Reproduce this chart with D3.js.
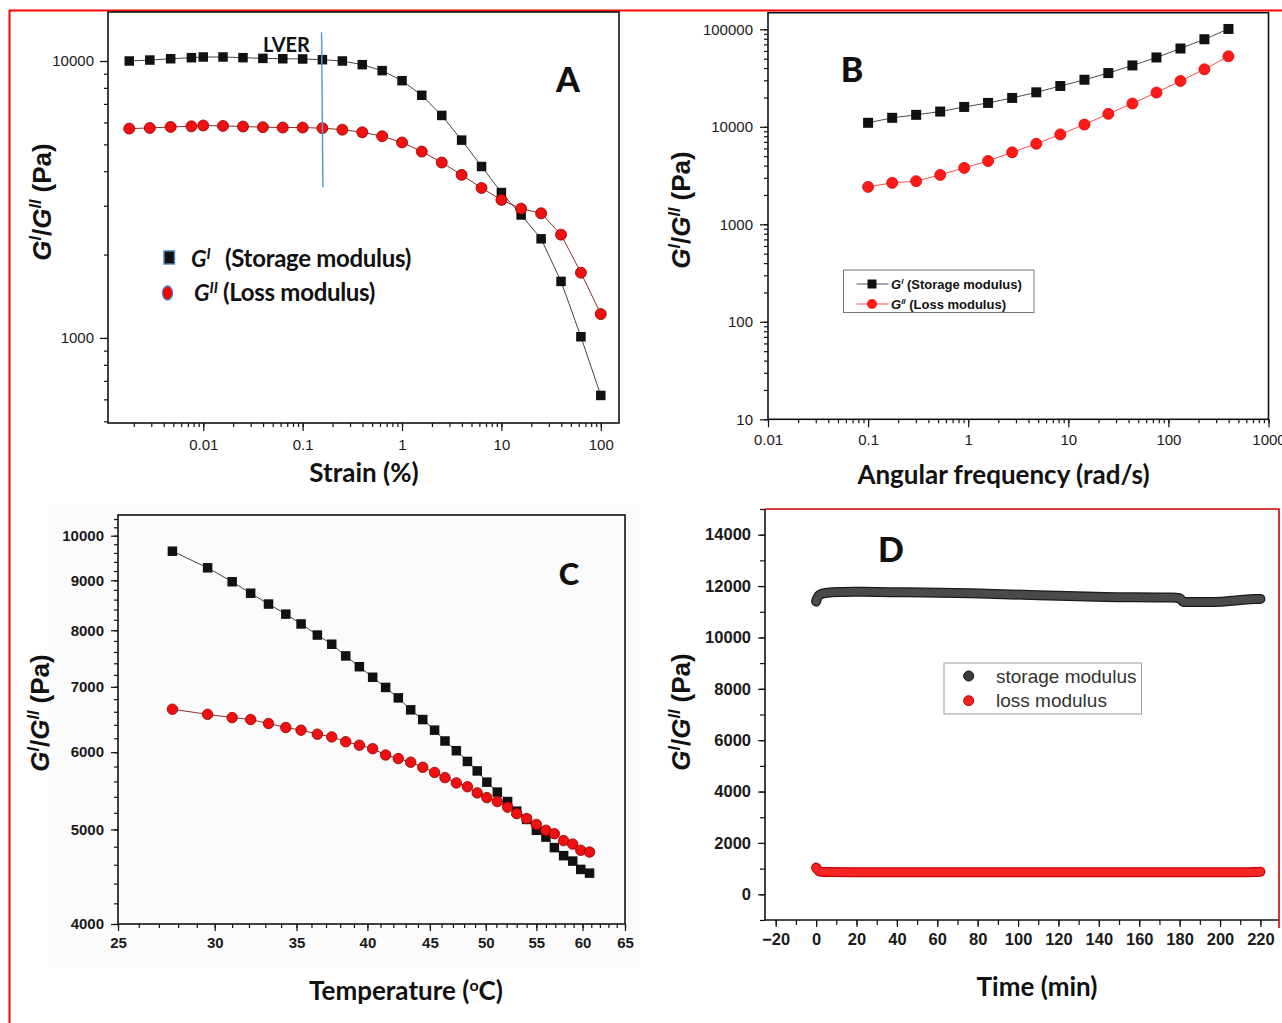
<!DOCTYPE html>
<html>
<head>
<meta charset="utf-8">
<script src="https://cdn.jsdelivr.net/npm/d3@7"></script>
<style>
body{margin:0;background:#fff;}
svg{display:block;}
</style>
</head>
<body>
<svg id="fig" width="1282" height="1023"></svg>
<script>
/* ========== DATA ========== */
// A: amplitude sweep
const strainPct=[0.0018,0.0029,0.0047,0.0076,0.01,0.0158,0.0251,0.0398,0.0631,0.1,0.158,0.251,0.398,0.631,1,1.58,2.51,3.98,6.31,10,15.8,25.1,39.8,63.1,100];
const strainStorage=[10000,10080,10190,10280,10340,10340,10280,10220,10190,10170,10110,10000,9700,9230,8490,7520,6360,5180,4160,3350,2780,2280,1600,1010,620];
const strainLoss=[5700,5730,5780,5810,5850,5830,5800,5770,5750,5750,5720,5650,5530,5350,5080,4710,4300,3880,3480,3150,2930,2820,2360,1720,1220];
const lverMark=[[0.155,12700],[0.16,3500]];
const strainTicks=[0.01,0.1,1,10,100];
const strainModTicks=[1000,10000];

// B: frequency sweep
const freq=[0.1,0.174,0.302,0.525,0.912,1.58,2.75,4.79,8.32,14.5,25.1,43.7,76,132,229,398];
const freqStorage=[10990,12360,13260,14330,15990,17580,19770,22580,26200,30390,35560,42590,51400,63530,79080,100800];
const freqLoss=[2420,2660,2770,3210,3790,4460,5470,6700,8350,10560,13580,17330,22460,29520,38880,52840];
const freqTicks=[0.01,0.1,1,10,100,1000];
const freqModTicks=[10,100,1000,10000,100000];

// C: temperature sweep
const tempC=[27.7,29.6,31.0,32.1,33.2,34.3,35.3,36.4,37.4,38.4,39.4,40.4,41.4,42.4,43.4,44.4,45.4,46.3,47.3,48.3,49.2,50.1,51.1,52.1,53.0,54.0,55.0,56.0,56.9,57.9,58.9,59.8,60.8];
const tempStorage=[9640,9270,8970,8730,8510,8310,8120,7910,7740,7530,7340,7160,6990,6820,6630,6480,6320,6160,6020,5870,5740,5590,5460,5340,5220,5120,4990,4910,4790,4700,4640,4550,4510];
const tempLoss=[6640,6560,6510,6480,6420,6360,6320,6260,6220,6150,6100,6050,5960,5910,5860,5790,5720,5650,5580,5530,5450,5390,5340,5270,5190,5130,5060,4990,4950,4870,4830,4760,4740];
const tempTicks=[25,30,35,40,45,50,55,60,65];
const tempModTicks=[4000,5000,6000,7000,8000,9000,10000];

// D: time sweep
const timeStorageMin=[0,0.5,1.5,4.5,12,19,44,77,110,143,176,180,182,193,201,209,217,220];
const timeStorage=[11400,11520,11650,11730,11770,11775,11757,11718,11641,11577,11550,11524,11383,11383,11394,11446,11498,11500];
const timeLossMin=[0,0.5,1.5,4,20,60,100,140,180,210,217,220];
const timeLoss=[1040,990,900,870,862,858,858,858,858,862,870,880];
const timeTicks=[-20,0,20,40,60,80,100,120,140,160,180,200,220];
const timeModTicks=[0,2000,4000,6000,8000,10000,12000,14000];

/* ========== HELPERS ========== */
const svg=d3.select('#fig');
const AX_FONT='Arial,"Liberation Sans",sans-serif';
const TITLE_FONT='Lato,"Open Sans",sans-serif';

function logMinor(lo,hi){
  const out=[];
  for(let e=Math.floor(Math.log10(lo));e<=Math.ceil(Math.log10(hi));e++)
    for(let k=1;k<10;k++){
      const v=+(k*Math.pow(10,e)).toPrecision(6);
      if(v>=lo&&v<=hi)out.push(v);
    }
  return out;
}
function stepRange(a,b,s){const o=[];for(let v=a;v<=b+1e-9;v+=s)o.push(v);return o;}

function axes(x,y,o){
  const g=svg.append('g');
  const bx=g.append('g').attr('transform',`translate(0,${y.range()[0]})`);
  bx.append('g').call(d3.axisBottom(x).tickValues(o.xMinor).tickSize(o.minor).tickFormat(''));
  bx.append('g').call(d3.axisBottom(x).tickValues(o.xMajor).tickSize(o.major).tickPadding(o.xPad).tickFormat(o.xFmt));
  const ly=g.append('g').attr('transform',`translate(${x.range()[0]},0)`);
  ly.append('g').call(d3.axisLeft(y).tickValues(o.yMinor).tickSize(o.minor).tickFormat(''));
  ly.append('g').call(d3.axisLeft(y).tickValues(o.yMajor).tickSize(o.major).tickPadding(o.yPad).tickFormat(o.yFmt));
  g.selectAll('.domain').remove();
  g.selectAll('.tick line').attr('stroke','#111').attr('stroke-width',1.2);
  g.selectAll('.tick text').attr('fill','#1a1a1a')
    .style('font-family',AX_FONT).style('font-size',o.fs+'px')
    .style('font-weight',o.bold?'bold':'normal');
}

function frame(x,y,color){
  const [x0,x1]=x.range(),[y0,y1]=y.range();
  svg.append('rect').attr('x',x0).attr('y',y1).attr('width',x1-x0).attr('height',y0-y1)
    .attr('fill','none').attr('stroke',color||'#111').attr('stroke-width',1.6);
}

function series(x,y,xs,ys,o){
  const pts=xs.map((v,i)=>[v,ys[i]]);
  svg.append('path').datum(pts)
    .attr('d',d3.line().x(d=>x(d[0])).y(d=>y(d[1])))
    .attr('fill','none').attr('stroke',o.line).attr('stroke-width',1);
  const g=svg.append('g');
  if(o.shape==='square'){
    g.selectAll('rect').data(pts).join('rect')
      .attr('x',d=>x(d[0])-o.size/2).attr('y',d=>y(d[1])-o.size/2)
      .attr('width',o.size).attr('height',o.size).attr('fill',o.fill);
  }else{
    g.selectAll('circle').data(pts).join('circle')
      .attr('cx',d=>x(d[0])).attr('cy',d=>y(d[1])).attr('r',o.size/2)
      .attr('fill',o.fill).attr('stroke',o.stroke).attr('stroke-width',0.8);
  }
}

function modulusTitle(bx,cy,size){
  const t=svg.append('text').attr('transform',`translate(${bx},${cy}) rotate(-90)`)
    .attr('text-anchor','middle').attr('fill','#111')
    .style('font-family',AX_FONT).style('font-weight','bold').style('font-size',size+'px');
  const up=size*0.38,small=size*0.62+'px';
  t.append('tspan').style('font-style','italic').text('G');
  t.append('tspan').style('font-style','italic').style('font-size',small).attr('dy',-up).text('I');
  t.append('tspan').attr('dy',up).text('/');
  t.append('tspan').style('font-style','italic').text('G');
  t.append('tspan').style('font-style','italic').style('font-size',small).attr('dy',-up).text('II');
  t.append('tspan').attr('dy',up).text(' (Pa)');
}

function xTitle(cx,by,txt){
  return svg.append('text').attr('x',cx).attr('y',by).attr('text-anchor','middle').attr('fill','#111')
    .style('font-family',TITLE_FONT).style('font-weight','bold').style('font-size','26px').text(txt);
}
function panelLetter(cx,by,txt,size){
  svg.append('text').attr('x',cx).attr('y',by).attr('text-anchor','middle').attr('fill','#111')
    .style('font-family',TITLE_FONT).style('font-weight','900').style('font-size',(size||34)+'px').text(txt);
}

/* ========== OUTER BORDER ========== */
svg.append('line').attr('x1',9).attr('x2',1282).attr('y1',10.5).attr('y2',10.5).attr('stroke','#ff0000').attr('stroke-width',2);
svg.append('line').attr('x1',9.5).attr('x2',9.5).attr('y1',10).attr('y2',1023).attr('stroke','#ff0000').attr('stroke-width',2);

/* ========== A ========== */
{
  const x=d3.scaleLog().domain([0.0011,152.5]).range([108,619]);
  const y=d3.scaleLog().domain([493,15030]).range([423,12]);
  axes(x,y,{xMajor:strainTicks,xMinor:logMinor(0.0011,152.5),yMajor:strainModTicks,yMinor:logMinor(493,15030),
    major:8,minor:4,xPad:8,yPad:6,fs:15,bold:false,xFmt:d=>String(d),yFmt:d3.format('d')});
  series(x,y,strainPct,strainStorage,{shape:'square',size:9.5,fill:'#111',line:'#444'});
  series(x,y,strainPct,strainLoss,{shape:'circle',size:11,fill:'#f01010',stroke:'#8b0000',line:'#8b2d2d'});
  svg.append('path').datum(lverMark).attr('d',d3.line().x(d=>x(d[0])).y(d=>y(d[1])))
    .attr('stroke','#5b9bd5').attr('stroke-width',1.5).attr('fill','none');
  svg.append('text').attr('x',263).attr('y',52).attr('fill','#111')
    .style('font-family',TITLE_FONT).style('font-weight','bold').style('font-size','20px').text('LVER');
  frame(x,y);
  panelLetter(568,92,'A');
  xTitle(364,482,'Strain (%)');
  modulusTitle(51,202,26);
  // legend
  svg.append('rect').attr('x',164).attr('y',251).attr('width',10.5).attr('height',13)
    .attr('fill','#111').attr('stroke','#4f81bd').attr('stroke-width',1.4);
  svg.append('ellipse').attr('cx',167.5).attr('cy',293).attr('rx',5).attr('ry',7)
    .attr('fill','#ff0000').attr('stroke','#4f81bd').attr('stroke-width',1.4);
  const lg=[['I','(Storage modulus)',191,225,267],['II','(Loss modulus)',194,223,301]];
  lg.forEach(r=>{
    const t=svg.append('text').attr('x',r[2]).attr('y',r[4]).attr('fill','#111')
      .style('font-family',TITLE_FONT).style('font-weight','bold').style('font-size','23px').style('font-style','italic');
    t.append('tspan').text('G');
    t.append('tspan').attr('dy',-8).style('font-size','15px').text(r[0]);
    svg.append('text').attr('x',r[3]).attr('y',r[4]).attr('fill','#111')
      .style('font-family',TITLE_FONT).style('font-weight','bold').style('font-size','24px').style('letter-spacing','-0.3px').text(r[1]);
  });
}

/* ========== B ========== */
{
  const x=d3.scaleLog().domain([0.01,1000]).range([768,1268.5]);
  const y=d3.scaleLog().domain([10,148000]).range([419.3,12.7]);
  axes(x,y,{xMajor:freqTicks,xMinor:logMinor(0.01,1000),yMajor:freqModTicks,yMinor:logMinor(10,148000),
    major:8,minor:4,xPad:7,yPad:7,fs:15,bold:false,xFmt:d=>String(d),yFmt:d3.format('d')});
  series(x,y,freq,freqStorage,{shape:'square',size:10,fill:'#111',line:'#4a4a5a'});
  series(x,y,freq,freqLoss,{shape:'circle',size:11,fill:'#ff1a1a',stroke:'#e00000',line:'#ff4a4a'});
  frame(x,y);
  panelLetter(852,82,'B');
  xTitle(1003.5,484,'Angular frequency (rad/s)');
  modulusTitle(690,210,26);
  // legend
  svg.append('rect').attr('x',843.5).attr('y',270).attr('width',190.5).attr('height',42.5)
    .attr('fill','#fff').attr('stroke','#777').attr('stroke-width',1);
  const rows=[{y:284,sup:'I',txt:'(Storage modulus)',line:'#5a4a6a'},{y:304,sup:'II',txt:'(Loss modulus)',line:'#ff4a4a'}];
  rows.forEach((r,i)=>{
    svg.append('line').attr('x1',856.5).attr('x2',888.5).attr('y1',r.y).attr('y2',r.y).attr('stroke',r.line).attr('stroke-width',1);
    if(i===0)svg.append('rect').attr('x',867.5).attr('y',r.y-4.5).attr('width',9).attr('height',9).attr('fill','#111');
    else svg.append('circle').attr('cx',872).attr('cy',r.y).attr('r',5).attr('fill','#ff1a1a');
    const t=svg.append('text').attr('x',891).attr('y',r.y+5).attr('fill','#111')
      .style('font-family',AX_FONT).style('font-weight','bold').style('font-size','13px');
    t.append('tspan').style('font-style','italic').text('G');
    t.append('tspan').style('font-style','italic').style('font-size','8px').attr('dy',-5).text(r.sup);
    t.append('tspan').attr('dy',5).text(' '+r.txt);
  });
}

/* ========== C ========== */
{
  svg.append('rect').attr('x',48).attr('y',505).attr('width',592).attr('height',462).attr('fill','#fbfbfb');
  const x=d3.scaleLog().domain([25,65]).range([118,625]);
  const y=d3.scaleLog().domain([4000,10500]).range([924,515]);
  axes(x,y,{xMajor:tempTicks,xMinor:stepRange(25,65,1),yMajor:tempModTicks,yMinor:stepRange(4000,10400,200),
    major:7,minor:4,xPad:6,yPad:7,fs:15,bold:true,xFmt:d3.format('d'),yFmt:d3.format('d')});
  series(x,y,tempC,tempStorage,{shape:'square',size:9.5,fill:'#111',line:'#444'});
  series(x,y,tempC,tempLoss,{shape:'circle',size:10.5,fill:'#f01010',stroke:'#8b0000',line:'#8b2d2d'});
  frame(x,y);
  panelLetter(569,585,'C',31);
  const t=xTitle(406,1000,'Temperature (');
  t.append('tspan').attr('dy',-9).style('font-size','16px').text('o');
  t.append('tspan').attr('dy',9).text('C)');
  modulusTitle(49,713,26);
}

/* ========== D ========== */
{
  const x=d3.scaleLinear().domain([-25.3,229.2]).range([765,1279]);
  const y=d3.scaleLinear().domain([-1000,15000]).range([920,509]);
  axes(x,y,{xMajor:timeTicks,xMinor:stepRange(-20,220,10),yMajor:timeModTicks,yMinor:stepRange(-1000,15000,1000),
    major:7,minor:5,xPad:6,yPad:7,fs:16.5,bold:true,xFmt:d3.format('d'),yFmt:d3.format('d')});
  const band=(xs,ys,edge,fill)=>{
    const pts=xs.map((v,i)=>[v,ys[i]]);
    const ln=d3.line().x(d=>x(d[0])).y(d=>y(d[1])).curve(d3.curveMonotoneX);
    svg.append('path').datum(pts).attr('d',ln).attr('fill','none').attr('stroke',edge)
      .attr('stroke-width',10).attr('stroke-linecap','round').attr('stroke-linejoin','round');
    svg.append('path').datum(pts).attr('d',ln).attr('fill','none').attr('stroke',fill)
      .attr('stroke-width',7.5).attr('stroke-linecap','round').attr('stroke-linejoin','round');
  };
  band(timeStorageMin,timeStorage,'#1a1a1a','#4a4a4a');
  band(timeLossMin,timeLoss,'#c80000','#f52525');
  // frame: black left/bottom, red top/right
  const [x0,x1]=x.range(),[y0,y1]=y.range();
  svg.append('path').attr('d',`M${x0},${y1}V${y0}H${x1}`).attr('fill','none').attr('stroke','#111').attr('stroke-width',1.6);
  svg.append('path').attr('d',`M${x0},${y1}H${x1}V${y0+8}`).attr('fill','none').attr('stroke','#d00000').attr('stroke-width',1.6);
  panelLetter(891,562,'D');
  xTitle(1037,996,'Time (min)');
  modulusTitle(690,712,26);
  // legend
  svg.append('rect').attr('x',944).attr('y',663).attr('width',197.5).attr('height',51)
    .attr('fill','#fff').attr('stroke','#999').attr('stroke-width',1);
  [['storage modulus',676,'#3c3c3c','#111'],['loss modulus',700.7,'#f02020','#c00000']].forEach(r=>{
    svg.append('circle').attr('cx',968.7).attr('cy',r[1]).attr('r',5).attr('fill',r[2]).attr('stroke',r[3]).attr('stroke-width',1);
    svg.append('text').attr('x',996).attr('y',r[1]+6.5).attr('fill','#333')
      .style('font-family',AX_FONT).style('font-size','19px').text(r[0]);
  });
}
</script>
</body>
</html>
